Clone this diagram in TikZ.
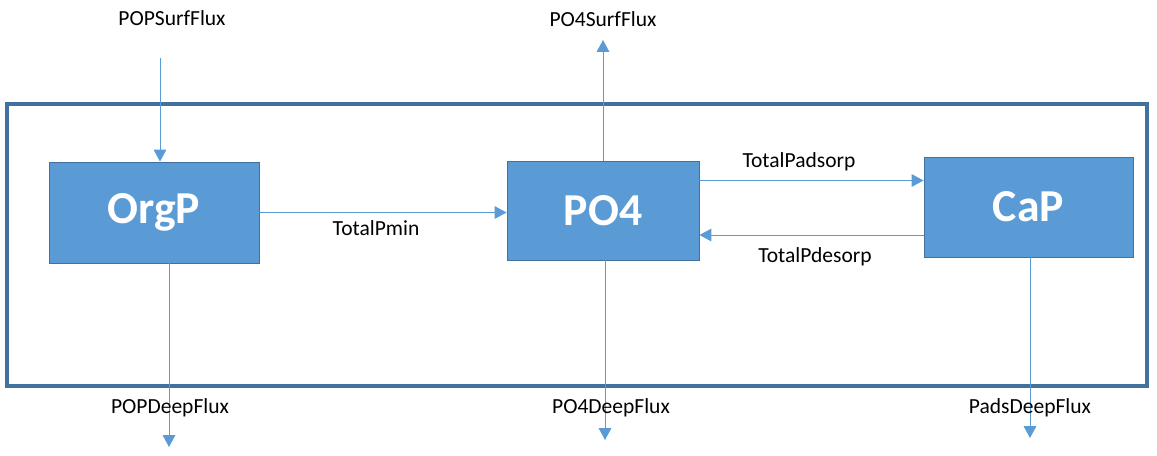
\documentclass[tikz,border=0pt]{standalone}
\usepackage{fontspec}
\setmainfont{Carlito}
\usetikzlibrary{arrows.meta}
\definecolor{boxblue}{HTML}{5B9BD5}
\definecolor{edgeblue}{HTML}{41719C}

\begin{document}
\begin{tikzpicture}[x=0.025cm, y=-0.025cm,
	pool/.style={draw=edgeblue, line width=0.6pt, fill=boxblue, text=white,
		font=\fontsize{32.5}{38}\selectfont\bfseries, inner sep=0pt},
	flux/.style={draw=boxblue, line width=0.7pt, -{Triangle[length=8.5pt, width=9pt]}},
	lbl/.style={font=\fontsize{15.3}{18}\selectfont, inner sep=0pt}]
			%%%%% START %%%%%
			\useasboundingbox (0, 0) rectangle (1157, 455);
			\draw[edgeblue, line width=2.5pt] (7, 104) rectangle (1147, 386);
			
			\node[pool, minimum width=5.25cm, minimum height=2.525cm] (orgp) at (154, 212.5) {OrgP};
			\node[pool, minimum width=4.8cm, minimum height=2.475cm] (po4) at (603, 210.5) {PO4};
			\node[pool, minimum width=5.225cm, minimum height=2.5cm] (cap) at (1028.5, 207) {CaP};
			
			\coordinate (popsurf) at (160, 58);
			\coordinate (po4surf) at (603, 40);
			\coordinate (popdeep) at (169, 447);
			\coordinate (po4deep) at (605, 440);
			\coordinate (padsdeep) at (1030, 438);
			
			\draw[flux] (popsurf) -- (popsurf |- orgp.north);
			\draw[flux] (po4surf |- po4.north) -- (po4surf);
			\draw[flux] (popdeep |- orgp.south) -- (popdeep);
			\draw[flux] (po4deep |- po4.south) -- (po4deep);
			\draw[flux] (padsdeep |- cap.south) -- (padsdeep);
			
			\draw[flux] (orgp.east) -- (orgp.east -| po4.west);
			\draw[flux] ([yshift=0.75cm]po4.east) -- ([yshift=0.75cm]po4.east -| cap.west);
			\draw[flux] ([yshift=-0.7cm]cap.west) -- ([yshift=-0.7cm]cap.west -| po4.east);
			
			\node[lbl] (popsurflbl) at (172, 18) {POPSurfFlux};
			\node[lbl] (po4surflbl) at (603, 19) {PO4SurfFlux};
			\node[lbl] (pminlbl) at (376, 228) {TotalPmin};
			\node[lbl] (padsorplbl) at (799, 162) {TotalPadsorp};
			\node[lbl] (pdesorplbl) at (815, 257) {TotalPdesorp};
			\node[lbl] (popdeeplbl) at (170, 408) {POPDeepFlux};
			\node[lbl] (po4deeplbl) at (611, 408) {PO4DeepFlux};
			\node[lbl] (padsdeeplbl) at (1030, 408) {PadsDeepFlux};
			%%%%% END %%%%%
		\end{tikzpicture}
\end{document}
